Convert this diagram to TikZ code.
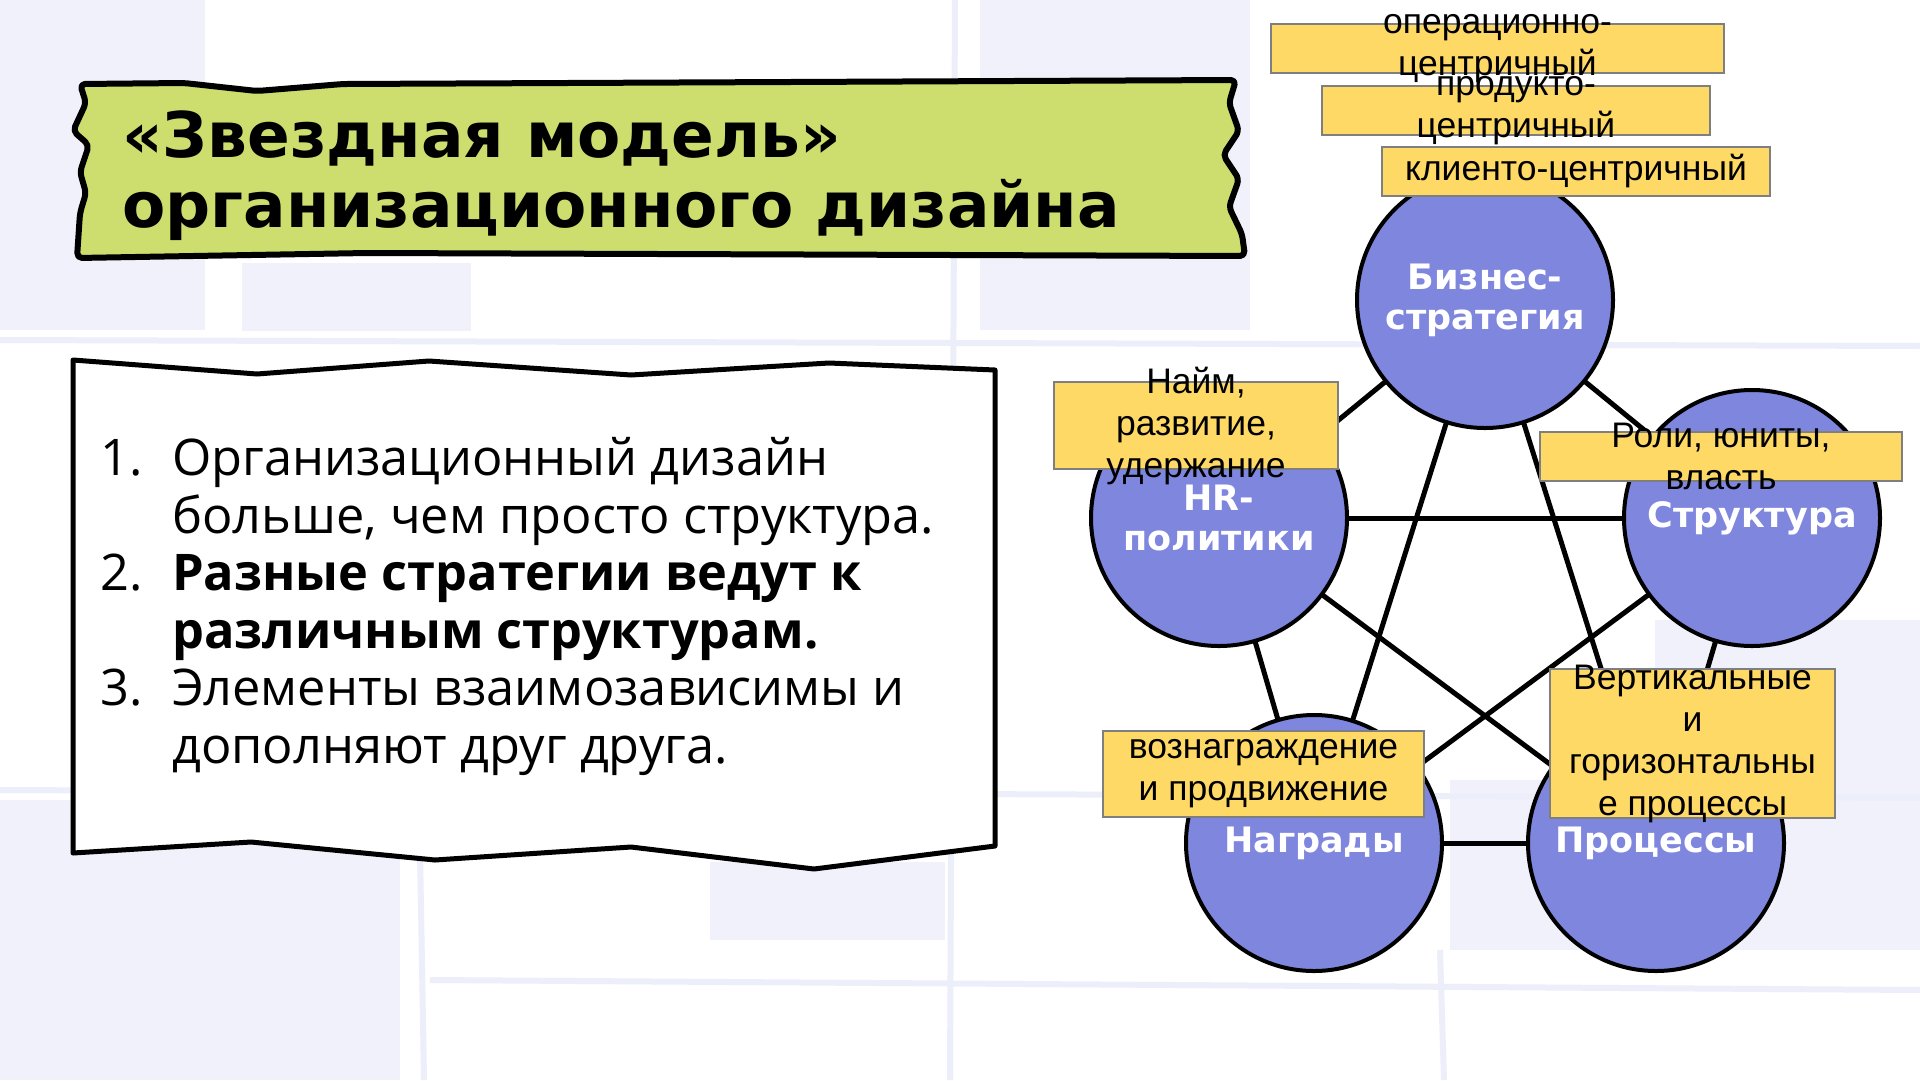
\documentclass[tikz,border=0pt]{standalone}
\usepackage{fontspec}
\setmainfont{Liberation Sans}
\newfontfamily\headfont{DejaVu Sans}
\newfontfamily\listfont{Open Sans}
\usepackage{tikz}
\definecolor{starBlue}{HTML}{7F86DE}
\definecolor{tagYellow}{HTML}{FFD966}
\definecolor{tagEdge}{HTML}{7F7F7F}
\definecolor{titleGreen}{HTML}{CDDE6E}
\definecolor{paleLilac}{HTML}{F0F1FA}
\definecolor{lilacLine}{HTML}{ECEEF9}

\begin{document}
\begin{tikzpicture}[x=1pt, y=-1pt,
    elem/.style={circle, draw=black, line width=4pt, fill=starBlue, minimum size=256pt,
      inner sep=0pt, text=white, align=center, font=\headfont\bfseries\fontsize{35}{40}\selectfont},
    link/.style={line width=5pt, line cap=round},
    tagtext/.style={font=\fontsize{35.5}{42}\selectfont, align=center, inner sep=0pt},
    tag/.style={draw=tagEdge, line width=1.5pt, fill=tagYellow, inner sep=0pt,
      label={[tagtext]center:{#1}}},
    paper/.style={draw=black, line width=5pt, line join=round, fill=white},
    back/.style={fill=paleLilac},
    backline/.style={draw=lilacLine, line width=6pt}]
    \useasboundingbox (0,0) rectangle (1920,1080);
    % background sheet
    \fill[white] (0,0) rectangle (1920,1080);
    \fill[back] (0,0) rectangle (205,330);
    \fill[back] (242,263) rectangle (471,331);
    \fill[back] (980,0) rectangle (1250,330);
    \fill[back] (0,800) rectangle (400,1080);
    \fill[back] (710,862) rectangle (945,940);
    \fill[back] (1655,620) rectangle (1920,950);
    \fill[back] (1450,780) rectangle (1920,950);
    \draw[backline] (0,340) -- (1920,346);
    \draw[backline] (0,790) -- (1920,798);
    \draw[backline] (430,980) -- (1920,990);
    \draw[backline] (420,850) -- (424,1080);
    \draw[backline] (955,0) -- (950,1080);
    \draw[backline] (1440,950) -- (1444,1080);
    % title and text sheet
    \draw[line width=6pt, line join=round, rounded corners=5pt, fill=titleGreen]
      (80,84) -- (184,83) -- (257,91) -- (343,84) -- (1236,80) -- (1229,103) -- (1239,131)
      -- (1223,155) -- (1239,179) -- (1229,207) -- (1242,234) -- (1245,256) -- (367,253)
      -- (77,258) -- (80,213) -- (86,193) -- (80,172) -- (89,145) -- (73,131) -- (86,103) -- cycle;
    \node[anchor=base west, align=left, inner sep=0pt,
      font=\headfont\bfseries\fontsize{63}{70}\selectfont] (title) at (122,227)
      {«Звездная модель»\\организационного дизайна};
    \draw[paper] (73,360) -- (257,374) -- (429,361) -- (631,375) -- (829,363) -- (995,370)
      -- (995,846) -- (814,869) -- (631,847) -- (435,860) -- (251,842) -- (73,853) -- cycle;
    \node[anchor=base west, align=left, inner sep=0pt,
      font=\listfont\fontsize{50.5}{57.5}\selectfont] (points) at (100,763)
      {\makebox[72pt][l]{1.}Организационный дизайн\\
       \hspace*{72pt}больше, чем просто структура.\\
       \makebox[72pt][l]{2.}\textbf{Разные стратегии ведут к}\\
       \hspace*{72pt}\textbf{различным структурам.}\\
       \makebox[72pt][l]{3.}Элементы взаимозависимы и\\
       \hspace*{72pt}дополняют друг друга.};
    % star model
    \node[elem] (biz) at (1485,300) {Бизнес-\\стратегия};
    \node[elem] (hr) at (1219,518) {HR-\\политики};
    \node[elem] (struct) at (1752,518) {Структура};
    \node[elem] (reward) at (1314,843) {Награды};
    \node[elem] (proc) at (1656,843) {Процессы};
    \draw[link](biz)--(hr);\draw[link](biz)--(struct);\draw[link](biz)--(reward);\draw[link](biz)--(proc);
    \draw[link](hr)--(struct);\draw[link](hr)--(reward);\draw[link](hr)--(proc);
    \draw[link](struct)--(reward);\draw[link](struct)--(proc);\draw[link](reward)--(proc);
    % notes
    \node[tag={операционно-\\центричный}, minimum width=453pt, minimum height=49pt] (opcentric) at (1497.5,48.5) {};
    \node[tag={продукто-\\центричный}, minimum width=388pt, minimum height=49pt] (prodcentric) at (1516,110.5) {};
    \node[tag={клиенто-центричный}, minimum width=388pt, minimum height=49pt] (clientcentric) at (1576,171.5) {};
    \node[tag={Найм,\\развитие,\\удержание}, minimum width=284pt, minimum height=87pt] (hiring) at (1196,425.5) {};
    \node[tag={Роли, юниты,\\власть}, minimum width=362pt, minimum height=49pt] (roles) at (1721,456.5) {};
    \node[tag={Вертикальные\\и\\горизонтальны\\е процессы}, minimum width=285pt, minimum height=149pt] (flows) at (1692.5,743.5) {};
    \node[tag={вознаграждение\\и продвижение}, minimum width=321pt, minimum height=86pt] (bonus) at (1263.5,774) {};
  \end{tikzpicture}
\end{document}
